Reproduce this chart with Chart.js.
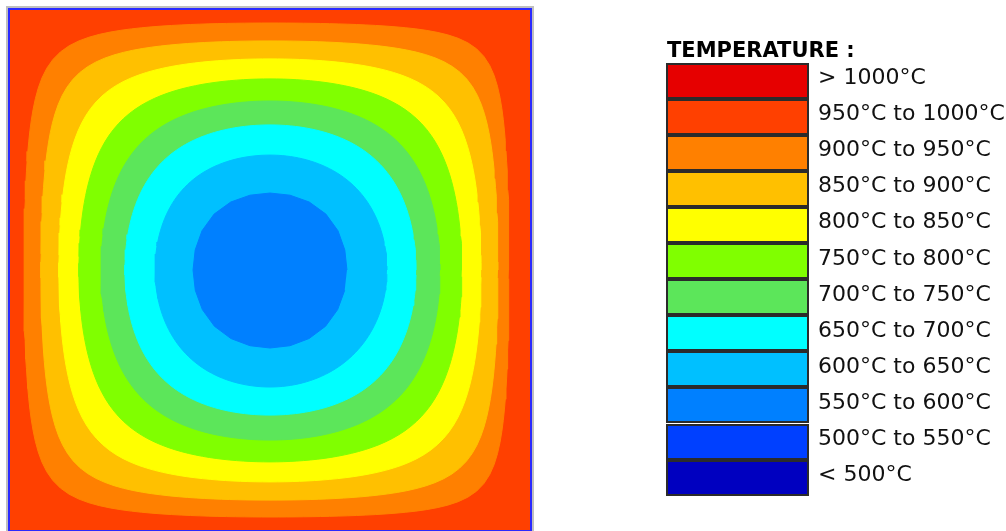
<!DOCTYPE html>
<html>
<head>
<meta charset="utf-8">
<title>Temperature field</title>
<script src="https://cdn.jsdelivr.net/npm/chart.js@4/dist/chart.umd.min.js"></script>
<style>
  html, body { margin: 0; padding: 0; background: #fff; overflow: hidden; }
  body { width: 1006px; height: 531px; position: relative; font-family: "DejaVu Sans", Verdana, sans-serif; }
  #plot { position: absolute; left: 0; top: 0; }
  #legend { position: absolute; left: 0; top: 0; width: 1006px; height: 531px; }
  .lg-title { position: absolute; left: 667px; top: 40px; font-size: 21px; line-height: 21px; font-weight: bold; color: #000; white-space: nowrap; }
  .lg-box { position: absolute; left: 666px; width: 143px; height: 36px; box-sizing: border-box; border: 2px solid #2b2b2b; }
  .lg-text { position: absolute; left: 818px; font-size: 22px; line-height: 22px; color: #111; white-space: nowrap; }
</style>
</head>
<body>
<canvas id="plot" width="540" height="540"></canvas>
<div id="legend"></div>
<script>
// Temperature bands, hottest first
const bandLabels = [
  '> 1000°C', '950°C to 1000°C', '900°C to 950°C', '850°C to 900°C',
  '800°C to 850°C', '750°C to 800°C', '700°C to 750°C', '650°C to 700°C',
  '600°C to 650°C', '550°C to 600°C', '500°C to 550°C', '< 500°C'
];
const bandColors = [
  '#e60000', '#ff4000', '#ff8000', '#ffc000',
  '#ffff00', '#80ff00', '#5ce65a', '#00ffff',
  '#00c0ff', '#0080ff', '#0040ff', '#0000c0'
];

// Isotherm lines of the section, from the hot surface inward (°C)
const isotherms = [950, 900, 850, 800, 750, 700, 650, 600];
// Extent of each isotherm from the section centre (section half-width = 1)
const extLeft   = [0.946, 0.881, 0.812, 0.735, 0.650, 0.558, 0.442, 0.296];
const extRight  = [0.919, 0.877, 0.812, 0.738, 0.654, 0.562, 0.450, 0.296];
const extTop    = [0.950, 0.881, 0.812, 0.735, 0.650, 0.558, 0.442, 0.296];
const extBottom = [0.950, 0.885, 0.815, 0.738, 0.654, 0.558, 0.450, 0.300];
// Offset (along x and y) where each isotherm crosses the section diagonals
const extDiag   = [0.823, 0.746, 0.658, 0.573, 0.492, 0.415, 0.323, 0.215];
// Section outline
const sectionX = [-1, 1, 1, -1];
const sectionY = [-1, -1, 1, 1];

function colorOf(temp) {
  // colour of the band just below the given isotherm
  const label = (temp - 50) + '°C to ' + temp + '°C';
  return bandColors[bandLabels.indexOf(label)];
}

function bisect(f, lo, hi) {
  let flo = f(lo);
  for (let i = 0; i < 60; i++) {
    const mid = (lo + hi) / 2, fm = f(mid);
    if ((fm < 0) === (flo < 0)) { lo = mid; flo = fm; } else { hi = mid; }
  }
  return (lo + hi) / 2;
}

// Isotherm outline of a heated square section: level curve of
// cos(p*u)*cos(p*v) through the axis extents, with p set by the
// diagonal crossing ratio r (u, v scaled by the quadrant extents).
function shapeParam(r) {
  return bisect(p => Math.pow(Math.cos(p * r), 2) - Math.cos(p), 1e-3, Math.PI / 2 - 1e-6);
}

function isothermOutline(k, steps) {
  const pts = [];
  for (let i = 0; i < steps; i++) {
    const t = (i / steps) * Math.PI * 2;
    const c = Math.cos(t), s = Math.sin(t);
    const ax = c >= 0 ? extRight[k] : extLeft[k];
    const ay = s >= 0 ? extTop[k] : extBottom[k];
    const p = shapeParam(extDiag[k] / ((ax + ay) / 2));
    const level = Math.cos(p);
    const m = Math.max(Math.abs(c), Math.abs(s));
    const rho = bisect(q => Math.cos(p * q * c) * Math.cos(p * q * s) - level,
                       0, Math.PI / (2 * p * m));
    pts.push({ x: ax * rho * c, y: ay * rho * s });
  }
  return pts;
}

const datasets = [];
datasets.push({
  label: bandLabels[1],
  data: sectionX.map((x, i) => ({ x: x, y: sectionY[i] })),
  backgroundColor: bandColors[1],
  borderColor: bandColors[1],
  order: isotherms.length + 1
});
isotherms.forEach((temp, k) => {
  const col = colorOf(temp);
  datasets.push({
    label: temp + '°C',
    data: isothermOutline(k, k === isotherms.length - 1 ? 24 : 180),
    backgroundColor: col,
    borderColor: col,
    order: isotherms.length - k
  });
});
datasets.forEach(d => {
  d.fill = 'shape';
  d.borderWidth = 1;
  d.pointRadius = 0;
  d.tension = 0;
});

// Frame round the section
const framePlugin = {
  id: 'sectionFrame',
  afterDraw(chart) {
    const ctx = chart.ctx;
    const a = chart.chartArea;
    ctx.save();
    ctx.lineWidth = 2;
    ctx.strokeStyle = '#bfbfbf';
    ctx.strokeRect(a.left - 3, a.top - 3, a.right - a.left + 6, a.bottom - a.top + 6);
    ctx.strokeStyle = '#2a2aff';
    ctx.strokeRect(a.left - 1, a.top - 1, a.right - a.left + 2, a.bottom - a.top + 2);
    ctx.restore();
  }
};

new Chart(document.getElementById('plot'), {
  type: 'line',
  data: { datasets: datasets },
  options: {
    responsive: false,
    animation: false,
    devicePixelRatio: 1,
    layout: { padding: 10 },
    scales: {
      x: { type: 'linear', min: -1, max: 1, display: false },
      y: { type: 'linear', min: -1, max: 1, display: false }
    },
    plugins: {
      legend: { display: false },
      tooltip: { enabled: false },
      filler: { propagate: false }
    },
    elements: { line: { fill: 'shape' } }
  },
  plugins: [framePlugin]
});

// Legend
const legend = document.getElementById('legend');
const title = document.createElement('div');
title.className = 'lg-title';
title.textContent = 'TEMPERATURE :';
legend.appendChild(title);
bandLabels.forEach((lab, i) => {
  const box = document.createElement('div');
  box.className = 'lg-box';
  box.style.top = (62.5 + i * 36.1) + 'px';
  box.style.background = bandColors[i];
  legend.appendChild(box);
  const txt = document.createElement('div');
  txt.className = 'lg-text';
  txt.style.top = (66 + i * 36.1) + 'px';
  txt.textContent = lab;
  legend.appendChild(txt);
});
</script>
</body>
</html>
